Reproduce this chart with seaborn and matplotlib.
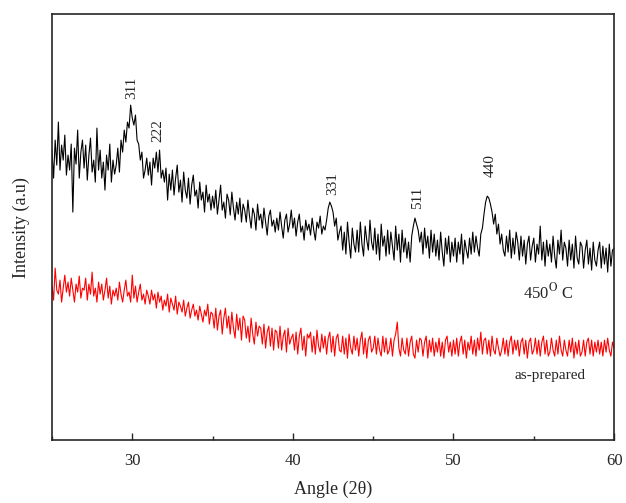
import numpy as np
import pandas as pd
import seaborn as sns
import matplotlib.pyplot as plt
from matplotlib.ticker import MultipleLocator

sns.set_style('ticks')
plt.rcParams['font.family'] = ['Liberation Serif', 'DejaVu Serif']
plt.rcParams['mathtext.fontset'] = 'stix'

# 2-theta grid, 0.1 degree steps from 25 to 60
angle = np.round(np.arange(250, 601) / 10, 1)

# sample annealed at 450 C (arbitrary intensity units)
annealed = [
    290, 262, 300, 275, 318, 270, 295, 280, 305, 265,
    285, 270, 296, 228, 292, 276, 310, 262, 288, 300,
    272, 295, 260, 285, 302, 268, 280, 258, 312, 270,
    290, 262, 278, 250, 285, 270, 296, 258, 280, 266,
    275, 292, 268, 300, 288, 310, 298, 318, 312, 335,
    322, 315, 325, 300, 296, 280, 288, 262, 270, 282,
    265, 278, 255, 282, 272, 288, 268, 290, 262, 270,
    258, 272, 240, 266, 250, 270, 245, 262, 275, 248,
    260, 238, 268, 250, 242, 262, 236, 255, 265, 244,
    250, 232, 258, 240, 248, 228, 255, 238, 246, 230,
    244, 232, 250, 226, 240, 255, 230, 238, 222, 246,
    240, 225, 248, 232, 220, 238, 226, 242, 218, 236,
    230, 218, 240, 224, 212, 232, 226, 210, 236, 220,
    226, 212, 232, 218, 205, 224, 230, 214, 220, 208,
    222, 210, 228, 214, 202, 220, 226, 208, 216, 230,
    212, 222, 204, 218, 226, 208, 214, 200, 220, 210,
    216, 205, 222, 210, 200, 218, 212, 224, 206, 214,
    210, 220, 232, 238, 234, 228, 214, 222, 200, 208,
    214, 190, 208, 186, 218, 198, 182, 212, 196, 188,
    210, 188, 218, 196, 184, 214, 200, 190, 220, 198,
    190, 212, 186, 206, 180, 216, 194, 204, 184, 210,
    186, 208, 194, 180, 214, 190, 206, 178, 210, 188,
    202, 182, 198, 178, 204, 214, 222, 216, 210, 198,
    208, 186, 212, 192, 204, 182, 210, 188, 206, 184,
    200, 180, 208, 188, 174, 202, 186, 204, 178, 198,
    184, 202, 178, 198, 186, 206, 176, 200, 190, 182,
    202, 186, 208, 188, 204, 192, 184, 206, 212, 226,
    238, 244, 242, 236, 228, 216, 226, 206, 216, 196,
    206, 190, 184, 204, 188, 210, 182, 202, 186, 208,
    198, 180, 204, 184, 200, 176, 196, 204, 180, 194,
    202, 178, 196, 186, 214, 180, 198, 174, 200, 184,
    196, 178, 204, 184, 172, 200, 186, 210, 180, 198,
    192, 174, 200, 180, 196, 172, 204, 182, 176, 198,
    194, 172, 190, 200, 176, 192, 170, 198, 180, 174,
    190, 198, 172, 194, 176, 192, 168, 196, 174, 190,
    192,
]

# as-prepared sample
as_prepared = [
    155, 140, 172, 150, 146, 160, 138, 152, 165, 148,
    158, 144, 162, 150, 138, 156, 148, 164, 142, 152,
    150, 162, 140, 156, 146, 168, 144, 152, 138, 158,
    146, 156, 140, 150, 162, 142, 154, 136, 150, 144,
    152, 140, 158, 146, 138, 150, 160, 144, 148, 138,
    165, 142, 154, 138, 148, 156, 140, 146, 136, 150,
    144, 136, 150, 140, 146, 132, 148, 138, 144, 130,
    140, 134, 146, 128, 142, 136, 130, 144, 126, 138,
    134, 128, 140, 124, 132, 138, 122, 130, 136, 124,
    130, 120, 134, 126, 118, 130, 124, 136, 116, 128,
    126, 112, 132, 110, 124, 130, 106, 122, 132, 112,
    124, 106, 128, 112, 102, 126, 110, 122, 100, 124,
    120, 102, 114, 98, 122, 106, 96, 118, 104, 114,
    112, 96, 116, 92, 108, 114, 94, 112, 90, 110,
    108, 92, 114, 90, 104, 110, 88, 112, 96, 102,
    106, 90, 108, 86, 104, 112, 90, 104, 84, 106,
    102, 108, 88, 104, 86, 110, 94, 88, 106, 92,
    104, 86, 102, 108, 88, 104, 84, 102, 106, 90,
    88, 104, 86, 102, 82, 106, 92, 86, 104, 90,
    102, 84, 100, 108, 86, 102, 82, 100, 104, 88,
    92, 104, 86, 102, 90, 84, 104, 88, 102, 86,
    90, 102, 84, 100, 106, 118, 92, 84, 102, 90,
    86, 102, 84, 98, 104, 86, 82, 100, 88, 102,
    100, 84, 98, 104, 82, 100, 88, 102, 84, 98,
    88, 102, 84, 98, 82, 100, 104, 88, 98, 84,
    100, 86, 102, 84, 98, 104, 86, 100, 82, 98,
    90, 104, 86, 100, 84, 102, 90, 108, 86, 100,
    102, 86, 100, 84, 104, 90, 86, 102, 92, 84,
    90, 102, 86, 100, 84, 98, 104, 86, 100, 90,
    100, 84, 98, 102, 86, 100, 82, 98, 102, 86,
    90, 102, 86, 100, 84, 98, 104, 86, 100, 84,
    88, 102, 90, 84, 100, 86, 104, 90, 84, 100,
    90, 84, 100, 88, 102, 82, 98, 86, 100, 84,
    88, 100, 84, 98, 102, 86, 100, 84, 98, 88,
    100, 86, 98, 84, 100, 88, 102, 90, 84, 98,
    92,
]

# reflections (hkl) and where the labels sit
peak_labels = ['311', '222', '331', '511', '440']
peak_pos = [29.95, 31.6, 42.5, 47.75, 52.3]
peak_height = [352, 310, 257, 242, 275]

df = pd.DataFrame({'angle': angle, 'annealed': annealed, 'as_prepared': as_prepared})

fig = plt.figure(figsize=(6.26, 5.03), dpi=100)
ax = fig.add_axes([0.083, 0.125, 0.898, 0.847])

sns.lineplot(data=df, x='angle', y='annealed', color='black', linewidth=0.8, ax=ax)
sns.lineplot(data=df, x='angle', y='as_prepared', color='red', linewidth=0.8, ax=ax)

for lab, xp, yp in zip(peak_labels, peak_pos, peak_height):
    ax.text(xp, yp, lab, rotation=90, ha='center', va='center', fontsize=11)

ax.text(55.9, 148, r'450$^{\mathrm{O}}$ C', ha='center', va='center', fontsize=12)
ax.text(56.0, 65, 'as-prepared', ha='center', va='center', fontsize=11)

ax.set_xlim(25, 60)
ax.set_ylim(0, 426)
ax.xaxis.set_minor_locator(MultipleLocator(5))
ax.set_xticks([30, 40, 50, 60])
ax.set_yticks([])
ax.tick_params(axis='x', which='major', direction='in', length=5, width=1, labelsize=12, pad=9)
ax.tick_params(axis='x', which='minor', direction='in', length=3, width=1)
for s in ax.spines.values():
    s.set_linewidth(1.2)

ax.set_xlabel('Angle (2\u03b8)', fontsize=13, labelpad=9)
ax.set_ylabel('Intensity (a.u)', fontsize=13, labelpad=16)

fig.savefig('out.png', dpi=100)
